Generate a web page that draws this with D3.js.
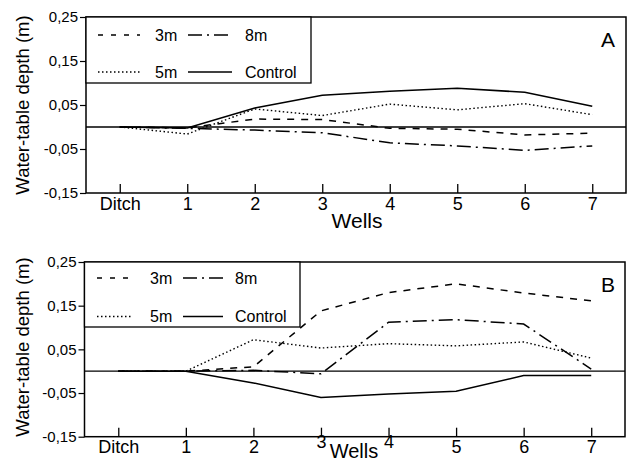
<!DOCTYPE html>
<html>
<head>
<meta charset="utf-8">
<script src="https://cdn.jsdelivr.net/npm/d3@7"></script>
<style>
  html, body { margin: 0; padding: 0; background: #fff; }
  svg { display: block; font-family: "Liberation Sans", Arial, Helvetica, sans-serif; }
</style>
</head>
<body>
<svg id="chart" width="628" height="463"></svg>
<script>
// ---- data ----
const wells = ["Ditch", "1", "2", "3", "4", "5", "6", "7"];
const yTickValues = [0.25, 0.15, 0.05, -0.05, -0.15];
const yTickLabels = ["0,25", "0,15", "0,05", "-0,05", "-0,15"];
const seriesNames = ["3m", "8m", "5m", "Control"];

// Panel A
const a3m      = [0, -0.002, 0.018, 0.017, -0.003, -0.005, -0.018, -0.014];
const a8m      = [0, -0.003, -0.007, -0.013, -0.036, -0.043, -0.053, -0.043];
const a5m      = [0, -0.016, 0.041, 0.026, 0.052, 0.039, 0.053, 0.028];
const aControl = [0, -0.002, 0.043, 0.072, 0.081, 0.088, 0.079, 0.047];

// Panel B
const b3m      = [0, 0, 0.010, 0.138, 0.180, 0.200, 0.179, 0.161];
const b8m      = [0, 0, 0.002, -0.006, 0.112, 0.118, 0.108, 0.005];
const b5m      = [0, 0, 0.072, 0.053, 0.063, 0.058, 0.067, 0.030];
const bControl = [0, 0, -0.027, -0.060, -0.052, -0.046, -0.010, -0.010];

// ---- styles ----
const dashes = { "3m": "7,7", "8m": "14,5,2,5", "5m": "1.5,2.5", "Control": null };

const svg = d3.select("#chart");

function drawPanel(cfg) {
  const g = svg.append("g");
  const x = d3.scaleLinear().domain([-0.5, wells.length - 0.5]).range([cfg.left, cfg.right]);
  const y = d3.scaleLinear().domain([-0.15, 0.25]).range([cfg.bottom, cfg.top]);

  // zero reference line
  g.append("line")
    .attr("x1", cfg.left).attr("x2", cfg.right)
    .attr("y1", y(0)).attr("y2", y(0))
    .attr("stroke", "#000").attr("stroke-width", 1.3);

  // series
  const line = d3.line().x((d, i) => x(i)).y(d => y(d));
  cfg.series.forEach((vals, k) => {
    const name = seriesNames[k];
    g.append("path")
      .datum(vals)
      .attr("d", line)
      .attr("fill", "none")
      .attr("stroke", "#000")
      .attr("stroke-width", name === "5m" ? 1.4 : 1.5)
      .attr("stroke-dasharray", dashes[name]);
  });

  // frame
  g.append("rect")
    .attr("x", cfg.left).attr("y", cfg.top)
    .attr("width", cfg.right - cfg.left).attr("height", cfg.bottom - cfg.top)
    .attr("fill", "none").attr("stroke", "#000").attr("stroke-width", 1.5);

  // y axis
  const yAxis = d3.axisLeft(y)
    .tickValues(yTickValues)
    .tickSize(6)
    .tickPadding(2)
    .tickFormat((d, i) => yTickLabels[i]);
  const ya = g.append("g").attr("transform", `translate(${cfg.left},0)`).call(yAxis);
  ya.select(".domain").remove();
  ya.selectAll("line").attr("stroke-width", 1.2);
  ya.selectAll("text").attr("font-size", 15).attr("font-family", "Liberation Sans, Arial, sans-serif").attr("fill", "#000");

  // x axis (ticks pointing inward)
  const xAxis = d3.axisBottom(x)
    .tickValues(d3.range(wells.length))
    .tickSize(-9)
    .tickPadding(cfg.xLabelPad)
    .tickFormat(i => wells[i]);
  const xa = g.append("g").attr("transform", `translate(0,${cfg.bottom})`).call(xAxis);
  xa.select(".domain").remove();
  xa.selectAll("line").attr("stroke-width", 1.3);
  xa.selectAll("text").attr("font-size", 18).attr("font-family", "Liberation Sans, Arial, sans-serif").attr("fill", "#000");
  if (cfg.raised) {
    xa.selectAll("text").filter(i => cfg.raised.includes(i)).attr("y", cfg.xLabelPad - 5);
  }

  // axis titles
  g.append("text")
    .attr("transform", `translate(${cfg.yTitleX},${cfg.yTitleY}) rotate(-90)`)
    .attr("text-anchor", "middle").attr("dy", "0.35em")
    .attr("font-size", 18.5).text("Water-table depth (m)");
  g.append("text")
    .attr("x", cfg.xTitleX).attr("y", cfg.xTitleY)
    .attr("text-anchor", "middle").attr("font-size", cfg.xTitleSize).text("Wells");

  // panel letter
  g.append("text")
    .attr("x", cfg.letterX).attr("y", cfg.letterY)
    .attr("text-anchor", "middle").attr("font-size", 21).text(cfg.letter);

  // legend
  const L = cfg.legend;
  g.append("rect")
    .attr("x", cfg.left).attr("y", cfg.top)
    .attr("width", L.right - cfg.left).attr("height", L.bottom - cfg.top)
    .attr("fill", "#fff").attr("stroke", "#000").attr("stroke-width", 1.3);
  const items = [
    { name: "3m",      sx: L.col1, tx: L.text1, y: L.row1 },
    { name: "8m",      sx: L.col2, tx: L.text2, y: L.row1 },
    { name: "5m",      sx: L.col1, tx: L.text1, y: L.row2 },
    { name: "Control", sx: L.col2, tx: L.text2, y: L.row2 }
  ];
  items.forEach(it => {
    g.append("line")
      .attr("x1", it.sx[0]).attr("x2", it.sx[1])
      .attr("y1", it.y).attr("y2", it.y)
      .attr("stroke", "#000").attr("stroke-width", 1.5)
      .attr("stroke-dasharray", it.name === "3m" ? "5,8" : dashes[it.name]);
    g.append("text")
      .attr("x", it.tx).attr("y", it.y).attr("dy", "0.36em")
      .attr("font-size", 16).text(it.name);
  });
}

drawPanel({
  left: 86, right: 626, top: 17, bottom: 193,
  series: [a3m, a8m, a5m, aControl],
  xLabelPad: 4.5,
  yTitleX: 23, yTitleY: 105,
  xTitleX: 357, xTitleY: 228, xTitleSize: 21,
  letter: "A", letterX: 608, letterY: 47,
  legend: { right: 311, bottom: 83, row1: 35, row2: 72,
            col1: [98, 140], col2: [188, 232], text1: 155, text2: 245 }
});

drawPanel({
  left: 84.5, right: 625, top: 262, bottom: 436.7,
  series: [b3m, b8m, b5m, bControl],
  xLabelPad: 4,
  raised: [3, 4],
  yTitleX: 23, yTitleY: 347,
  xTitleX: 354, xTitleY: 458, xTitleSize: 20,
  letter: "B", letterX: 608, letterY: 292,
  legend: { right: 300, bottom: 327, row1: 278, row2: 316.5,
            col1: [97, 133], col2: [183, 223], text1: 150, text2: 235 }
});
</script>
</body>
</html>
